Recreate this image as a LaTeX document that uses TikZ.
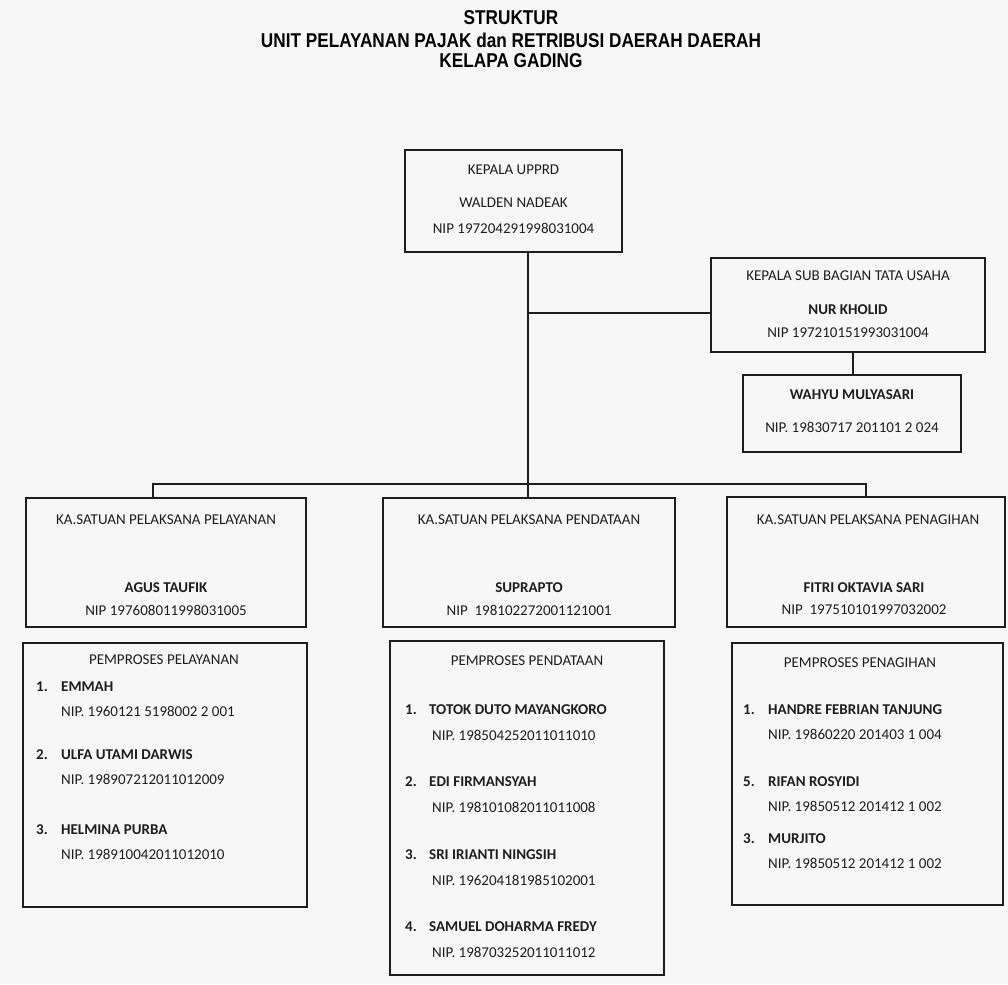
\documentclass[tikz,border=0pt]{standalone}
\usepackage{fontspec}
\setmainfont{Carlito}
\newfontfamily\titlefont[FakeStretch=0.86]{Liberation Sans}
\usetikzlibrary{positioning}
\definecolor{paper}{RGB}{247,247,247}
\definecolor{ink}{RGB}{30,30,30}

\begin{document}
\begin{tikzpicture}[x=1pt,y=-1pt,
  box/.style={draw=ink,line width=1.6pt,inner sep=0pt},
  listbox/.style={draw=ink,line width=2.4pt,inner sep=0pt},
  txt/.style={text=ink,inner sep=0pt,font=\fontsize{15}{17}\selectfont},
  who/.style={txt,font=\fontsize{15}{17}\selectfont\bfseries},
  head/.style={inner sep=0pt,font=\titlefont\fontsize{20}{22}\selectfont\bfseries},
  link/.style={draw=ink,line width=1.3pt}]
  \fill[paper] (0,0) rectangle (1008,984);
  \useasboundingbox (0,0) rectangle (1008,984);

  % title
  \node[head] (title1) at (511,18) {STRUKTUR};
  \node[head] (title2) at (511,40) {UNIT PELAYANAN PAJAK dan RETRIBUSI DAERAH DAERAH};
  \node[head] (title3) at (511,61) {KELAPA GADING};

  % boxes
  \node[box,minimum width=217,minimum height=102] (kepala) at (513.5,201) {};
  \node[box,minimum width=274,minimum height=94] (tatausaha) at (848,305) {};
  \node[box,minimum width=218,minimum height=77] (staf) at (852,413.5) {};
  \node[box,minimum width=280,minimum height=129] (pelayanan) at (166,562.5) {};
  \node[box,minimum width=292,minimum height=129] (pendataan) at (529,562.5) {};
  \node[box,minimum width=278,minimum height=130] (penagihan) at (866,562) {};
  \node[listbox,minimum width=284,minimum height=264] (pPelayanan) at (165,775) {};
  \node[listbox,minimum width=274,minimum height=334] (pPendataan) at (527,808) {};
  \node[listbox,minimum width=271,minimum height=262] (pPenagihan) at (867.5,774) {};

  % texts in the upper boxes
  \node[txt] (kepalaT) at (513.5,170) {KEPALA UPPRD};
  \node[txt] (kepalaN) at (513.5,203) {WALDEN NADEAK};
  \node[txt] (kepalaP) at (513.5,228) {NIP 197204291998031004};
  \node[txt] (tuT) at (848,276) {KEPALA SUB BAGIAN TATA USAHA};
  \node[who] (tuN) at (848,310) {NUR KHOLID};
  \node[txt] (tuP) at (848,333) {NIP 197210151993031004};
  \node[who] (stafN) at (852,395) {WAHYU MULYASARI};
  \node[txt] (stafP) at (852,427) {NIP. 19830717 201101 2 024};
  \node[txt] (plyT) at (166,520) {KA.SATUAN PELAKSANA PELAYANAN};
  \node[who] (plyN) at (166,588) {AGUS TAUFIK};
  \node[txt] (plyP) at (166,610) {NIP 197608011998031005};
  \node[txt] (pdtT) at (529,520) {KA.SATUAN PELAKSANA PENDATAAN};
  \node[who] (pdtN) at (529,588) {SUPRAPTO};
  \node[txt] (pdtP) at (529,610) {NIP\ \ 198102272001121001};
  \node[txt] (pngT) at (868,520) {KA.SATUAN PELAKSANA PENAGIHAN};
  \node[who] (pngN) at (864,588) {FITRI OKTAVIA SARI};
  \node[txt] (pngP) at (864,610) {NIP\ \ 197510101997032002};

  % staff lists
  \node[txt] (lsPly) at (164,660) {PEMPROSES PELAYANAN};
  \foreach \n/\nm/\nip/\y [count=\i] in {1/EMMAH/1960121 5198002 2 001/687,
      2/ULFA UTAMI DARWIS/198907212011012009/755,
      3/HELMINA PURBA/198910042011012010/830}{
    \node[who,anchor=west] (plyNo\i) at (36,\y) {\n.};
    \node[who,anchor=west] (plyNm\i) at (61,\y) {\nm};
    \node[txt,anchor=west] (plyNip\i) at (61,\y+24) {NIP. \nip};
  }
  \node[txt] (lsPdt) at (527,661) {PEMPROSES PENDATAAN};
  \foreach \n/\nm/\nip/\y [count=\i] in {1/TOTOK DUTO MAYANGKORO/198504252011011010/710,
      2/EDI FIRMANSYAH/198101082011011008/782,
      3/SRI IRIANTI NINGSIH/196204181985102001/855,
      4/SAMUEL DOHARMA FREDY/198703252011011012/927}{
    \node[who,anchor=west] (pdtNo\i) at (405,\y) {\n.};
    \node[who,anchor=west] (pdtNm\i) at (429,\y) {\nm};
    \node[txt,anchor=west] (pdtNip\i) at (432,\y+25) {NIP. \nip};
  }
  \node[txt] (lsPng) at (860,663) {PEMPROSES PENAGIHAN};
  \foreach \n/\nm/\nip/\y [count=\i] in {1/HANDRE FEBRIAN TANJUNG/19860220 201403 1 004/710,
      5/RIFAN ROSYIDI/19850512 201412 1 002/782,
      3/MURJITO/19850512 201412 1 002/839}{
    \node[who,anchor=west] (pngNo\i) at (743,\y) {\n.};
    \node[who,anchor=west] (pngNm\i) at (768,\y) {\nm};
    \node[txt,anchor=west] (pngNip\i) at (768,\y+24) {NIP. \nip};
  }

  % connectors
  \coordinate (hub) at (528,484);
  \coordinate (tap) at (528,313);
  \coordinate (ldrop) at (153,484);
  \draw[link] (kepala.south -| hub) -- (hub);
  \draw[link] (tap) -- (tap -| tatausaha.west);
  \draw[link] (tatausaha.south -| 853,0) -- (staf.north -| 853,0);
  \draw[link] (ldrop |- pelayanan.north) -- (ldrop) -- (hub -| penagihan.north) -- (penagihan.north);
  \draw[link] (hub) -- (hub |- pendataan.north);
\end{tikzpicture}
\end{document}
